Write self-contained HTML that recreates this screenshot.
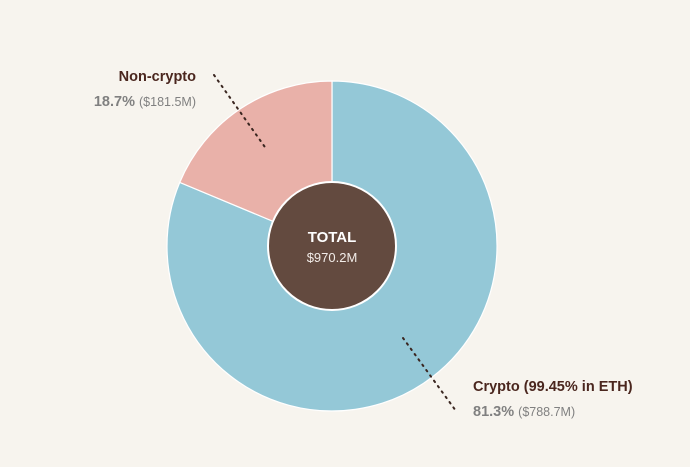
<!DOCTYPE html>
<html><head><meta charset="utf-8"><style>
html,body{margin:0;padding:0;background:#f7f4ee;}
svg{display:block;font-family:"Liberation Sans",sans-serif;}
</style></head><body>
<svg id="chart" width="690" height="467">
<rect width="690" height="467" fill="#f7f4ee"/>
</svg>
<script>
const categories = ["Crypto (99.45% in ETH)", "Non-crypto"];
const shares = [81.3, 18.7];
const amounts = ["$788.7M", "$181.5M"];
const colors = ["#94c8d7", "#e9b1a9"];
const totalLabel = "$970.2M";

const ns = "http://www.w3.org/2000/svg";
const svg = document.getElementById("chart");
const cx = 332, cy = 246, R = 165, r = 64;
function mk(tag, attrs){const e=document.createElementNS(ns,tag);for(const k in attrs)e.setAttribute(k,attrs[k]);svg.appendChild(e);return e;}
function pt(a,rad){return [cx+rad*Math.sin(a), cy-rad*Math.cos(a)];}
const sum = shares.reduce((a,b)=>a+b,0);
let start = 0;
shares.forEach((v,i)=>{
  const sweep = v/sum*2*Math.PI;
  const end = start+sweep;
  const [x1,y1]=pt(start,R), [x2,y2]=pt(end,R);
  const p = mk("path",{d:`M${cx},${cy} L${x1},${y1} A${R},${R} 0 ${sweep>Math.PI?1:0} 1 ${x2},${y2} Z`,fill:colors[i],stroke:"#ffffff","stroke-width":1.2});
  
  
  start = end;
});
const c = mk("circle",{cx:cx,cy:cy,r:r,fill:"#634a3f",stroke:"#ffffff","stroke-width":2});


const t1 = mk("text",{x:cx,y:242,"text-anchor":"middle",fill:"#ffffff","font-size":15,"font-weight":"bold"});
t1.textContent="TOTAL";


const t2 = mk("text",{x:cx,y:262,"text-anchor":"middle",fill:"#f2ece8","font-size":13});
t2.textContent=totalLabel;



// leader lines
const l1 = mk("line",{x1:214,y1:75,x2:267,y2:150,stroke:"#3a2620","stroke-width":2,"stroke-dasharray":"1.6 5","stroke-linecap":"round"});


const l2 = mk("line",{x1:403,y1:338,x2:456,y2:411,stroke:"#3a2620","stroke-width":2,"stroke-dasharray":"1.6 5","stroke-linecap":"round"});



// labels
function label(x,y,anchor,title,pct,amt,name){
  const a = mk("text",{x:x,y:y,"text-anchor":anchor,fill:"#4a261e","font-size":14.5,"font-weight":"bold"});
  a.textContent=title;
  
  
  const b = mk("text",{x:x,y:y+25,"text-anchor":anchor,fill:"#808080","font-size":14.5});
  const s1=document.createElementNS(ns,"tspan");s1.setAttribute("font-weight","bold");s1.textContent=pct+"% ";
  const s2=document.createElementNS(ns,"tspan");s2.setAttribute("font-size","12.5");s2.textContent="("+amt+")";
  b.appendChild(s1);b.appendChild(s2);
  
  
}
label(196,81,"end",categories[1],shares[1],amounts[1],"non-crypto");
label(473,391,"start",categories[0],shares[0],amounts[0],"crypto");
</script>
</body></html>
